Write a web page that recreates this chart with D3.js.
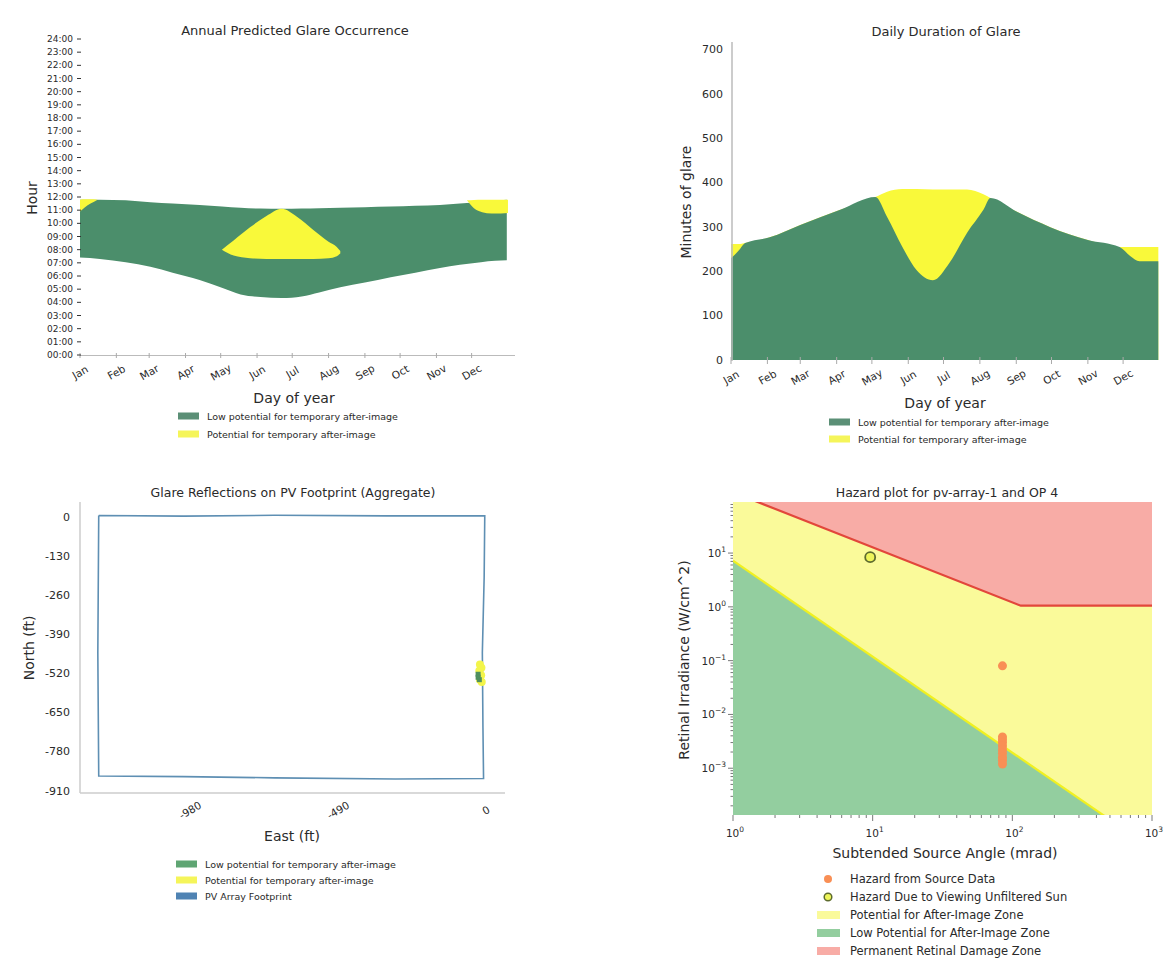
<!DOCTYPE html>
<html>
<head>
<meta charset="utf-8">
<script src="https://cdnjs.cloudflare.com/ajax/libs/d3/7.8.5/d3.min.js"></script>
<style>
  body { margin: 0; background: #fff; }
  text { font-family: "DejaVu Sans", sans-serif; fill: #2a2a2a; }
</style>
</head>
<body>
<div id="chart"></div>
<script>
// ---------- data ----------
var months = ["Jan","Feb","Mar","Apr","May","Jun","Jul","Aug","Sep","Oct","Nov","Dec"];
var monthStartDays = [1, 32, 60, 91, 121, 152, 182, 213, 244, 274, 305, 335];

// annual glare occurrence (hours of day)
var annualDays      = [1, 18, 40, 61, 80, 103, 122, 138, 155, 173, 190, 205, 223, 244, 266, 287, 308, 325, 343, 355, 365];
var annualLowTop    = [11.8, 11.8, 11.75, 11.6, 11.5, 11.4, 11.28, 11.18, 11.12, 11.1, 11.12, 11.15, 11.18, 11.22, 11.27, 11.33, 11.4, 11.5, 11.62, 11.72, 11.8];
var annualLowBottom = [7.4, 7.3, 7.05, 6.7, 6.25, 5.7, 5.1, 4.6, 4.4, 4.32, 4.45, 4.75, 5.15, 5.5, 5.9, 6.25, 6.6, 6.85, 7.05, 7.15, 7.2];

var triDays   = [122, 132, 146, 160, 173, 186, 200, 213, 220, 223];
var triTop    = [8.0, 8.7, 9.7, 10.55, 11.1, 10.5, 9.5, 8.6, 8.2, 7.9];
var triBottom = [8.0, 7.55, 7.35, 7.3, 7.3, 7.3, 7.3, 7.35, 7.5, 7.7];

var janBlobDays   = [1, 5, 10, 16];
var janBlobTop    = [11.8, 11.82, 11.82, 11.8];
var janBlobBottom = [10.9, 11.2, 11.5, 11.8];

var decBlobDays   = [331, 337, 344, 352, 360, 366];
var decBlobTop    = [11.75, 11.78, 11.8, 11.8, 11.8, 11.8];
var decBlobBottom = [11.75, 11.15, 10.85, 10.75, 10.75, 10.78];

// daily duration of glare (minutes)
var durDays  = [1, 5, 9, 13, 34, 60, 94, 124, 134, 147, 159, 173, 187, 202, 216, 222, 245, 273, 305, 332, 341, 349, 365];
var durTotal = [262, 262, 262, 264, 277, 305, 339, 368, 380, 386, 386, 385, 385, 385, 374, 366, 334, 300, 271, 255, 255, 255, 255];
var durLow   = [230, 240, 252, 264, 277, 305, 339, 368, 323, 255, 203, 180, 219, 287, 339, 366, 334, 300, 271, 255, 235, 223, 223];

// PV footprint (ft)
var footEast  = [-1282, -1000, -700, -330, -4, -6, -12, -10, -8, -300, -700, -1000, -1282, -1285, -1282];
var footNorth = [5, 3, 6, 4, 4, -200, -450, -700, -868, -870, -866, -862, -860, -450, 5];
var glareYellowPts = [[-20, -490], [-15, -500], [-22, -510], [-16, -525], [-20, -540], [-14, -548]];
var glareGreenPts  = [[-26, -522], [-26, -532], [-22, -540]];
var eastTicks  = [-980, -490, 0];
var northTicks = [0, -130, -260, -390, -520, -650, -780, -910];

// hazard plot
var damageAngle = [1, 115, 1000];
var damageIrr   = [135, 1.05, 1.05];
var afterAngle  = [1, 1000];
var afterIrr    = [7.2, 3.2e-5];
var sourceAngle = [85, 85, 85, 85, 85, 85, 85, 85, 85, 85];
var sourceIrr   = [0.08, 0.0038, 0.0034, 0.003, 0.0026, 0.0022, 0.0019, 0.0016, 0.0014, 0.0012];
var sunAngle = [9.6];
var sunIrr   = [8.4];

// ---------- colours ----------
var cGreen = "#4b8e6b", cYellow = "#f9f93a";

var svg = d3.select("#chart").append("svg")
  .attr("width", 1167).attr("height", 975);

function rotatedMonths(g, x, yPos) {
  g.selectAll("text.m").data(monthStartDays).enter().append("text")
    .attr("class", "m")
    .attr("transform", function(d) { return "translate(" + x(d) + "," + yPos + ") rotate(-30)"; })
    .attr("text-anchor", "middle").attr("dominant-baseline", "central")
    .style("font-size", "10.5px")
    .text(function(d, i) { return months[i]; });
}

function legendRows(g, x0, y0, dy, items) {
  items.forEach(function(it, i) {
    g.append("rect").attr("x", x0).attr("y", y0 + i * dy - 3.5)
      .attr("width", 21).attr("height", 7).attr("fill", it.c);
    g.append("text").attr("x", x0 + 29).attr("y", y0 + i * dy)
      .attr("dominant-baseline", "central")
      .style("font-size", "9.5px").text(it.t);
  });
}

// ================= 1. Annual Predicted Glare Occurrence =================
var g1 = svg.append("g");
var x1 = d3.scaleLinear().domain([1, 372]).range([80, 515]);
var y1 = d3.scaleLinear().domain([0, 24]).range([355, 39]);

var areaHours = function(days, top, bot) {
  return d3.area().curve(d3.curveMonotoneX)
    .x(function(d, i) { return x1(days[i]); })
    .y0(function(d, i) { return y1(bot[i]); })
    .y1(function(d, i) { return y1(top[i]); })(days);
};
g1.append("path").attr("d", areaHours(annualDays, annualLowTop, annualLowBottom)).attr("fill", cGreen);
g1.append("path").attr("d", areaHours(triDays, triTop, triBottom)).attr("fill", cYellow);
g1.append("path").attr("d", areaHours(janBlobDays, janBlobTop, janBlobBottom)).attr("fill", cYellow);
g1.append("path").attr("d", areaHours(decBlobDays, decBlobTop, decBlobBottom)).attr("fill", cYellow);

// x axis
g1.append("line").attr("x1", 80).attr("x2", 515).attr("y1", 355.5).attr("y2", 355.5)
  .attr("stroke", "#bbb").attr("stroke-width", 1.2);
g1.selectAll("line.xt").data(monthStartDays).enter().append("line")
  .attr("x1", function(d) { return x1(d); }).attr("x2", function(d) { return x1(d); })
  .attr("y1", 353).attr("y2", 358).attr("stroke", "#aaa");
rotatedMonths(g1, x1, 372);

// y axis (labels + dash ticks)
var hourTicks = d3.range(0, 25);
g1.selectAll("text.yt").data(hourTicks).enter().append("text")
  .attr("x", 73).attr("y", function(d) { return y1(d); })
  .attr("text-anchor", "end").attr("dominant-baseline", "central")
  .style("font-size", "9px")
  .text(function(d) { return (d < 10 ? "0" : "") + d + ":00"; });
g1.selectAll("line.yt").data(hourTicks).enter().append("line")
  .attr("x1", 77).attr("x2", 81)
  .attr("y1", function(d) { return y1(d); }).attr("y2", function(d) { return y1(d); })
  .attr("stroke", "#333").attr("stroke-width", 1);

g1.append("text").attr("x", 295).attr("y", 35).attr("text-anchor", "middle")
  .style("font-size", "13px").text("Annual Predicted Glare Occurrence");
g1.append("text").attr("x", 294).attr("y", 398).attr("text-anchor", "middle")
  .attr("dominant-baseline", "central").style("font-size", "14px").text("Day of year");
g1.append("text").attr("transform", "translate(32,198) rotate(-90)")
  .attr("text-anchor", "middle").attr("dominant-baseline", "central")
  .style("font-size", "14px").text("Hour");
legendRows(g1, 178, 416, 18, [
  { c: "#5b8f76", t: "Low potential for temporary after-image" },
  { c: "#f5f55a", t: "Potential for temporary after-image" }
]);

// ================= 2. Daily Duration of Glare =================
var g2 = svg.append("g");
var x2 = d3.scaleLinear().domain([1, 366]).range([731, 1159.5]);
var y2 = d3.scaleLinear().domain([0, 718]).range([360, 42]);

var areaMin = function(vals) {
  return d3.area().curve(d3.curveMonotoneX)
    .x(function(d, i) { return x2(durDays[i]); })
    .y0(y2(0))
    .y1(function(d, i) { return y2(vals[i]); })(durDays);
};
g2.append("path").attr("d", areaMin(durTotal)).attr("fill", cYellow);
g2.append("path").attr("d", areaMin(durLow)).attr("fill", cGreen);

g2.append("line").attr("x1", 732).attr("x2", 732).attr("y1", 42).attr("y2", 361)
  .attr("stroke", "#bbb").attr("stroke-width", 1.5);
g2.selectAll("line.xt").data(monthStartDays).enter().append("line")
  .attr("x1", function(d) { return x2(d); }).attr("x2", function(d) { return x2(d); })
  .attr("y1", 357).attr("y2", 364).attr("stroke", "#aaa");
rotatedMonths(g2, x2, 377);

g2.selectAll("text.yt").data(d3.range(0, 701, 100)).enter().append("text")
  .attr("x", 723).attr("y", function(d) { return y2(d); })
  .attr("text-anchor", "end").attr("dominant-baseline", "central")
  .style("font-size", "11px")
  .text(function(d) { return d; });

g2.append("text").attr("x", 946).attr("y", 36).attr("text-anchor", "middle")
  .style("font-size", "13px").text("Daily Duration of Glare");
g2.append("text").attr("x", 945).attr("y", 403).attr("text-anchor", "middle")
  .attr("dominant-baseline", "central").style("font-size", "14px").text("Day of year");
g2.append("text").attr("transform", "translate(686,202) rotate(-90)")
  .attr("text-anchor", "middle").attr("dominant-baseline", "central")
  .style("font-size", "14px").text("Minutes of glare");
legendRows(g2, 829, 422, 17, [
  { c: "#5b8f76", t: "Low potential for temporary after-image" },
  { c: "#f5f55a", t: "Potential for temporary after-image" }
]);

// ================= 3. Glare Reflections on PV Footprint =================
var g3 = svg.append("g");
var x3 = d3.scaleLinear().domain([-1344, 63]).range([80, 505]);
var y3 = d3.scaleLinear().domain([-913, 50]).range([792, 502]);

g3.append("line").attr("x1", 80).attr("x2", 80).attr("y1", 502).attr("y2", 793)
  .attr("stroke", "#ccc").attr("stroke-width", 1.5);
g3.append("line").attr("x1", 80).attr("x2", 505).attr("y1", 793).attr("y2", 793)
  .attr("stroke", "#ccc").attr("stroke-width", 1.5);

g3.append("path")
  .attr("d", d3.line()
    .x(function(d, i) { return x3(footEast[i]); })
    .y(function(d, i) { return y3(footNorth[i]); })(footEast))
  .attr("fill", "none").attr("stroke", "#5e8fb3").attr("stroke-width", 1.6);

g3.selectAll("circle.gy").data(glareYellowPts).enter().append("circle")
  .attr("cx", function(d) { return x3(d[0]); }).attr("cy", function(d) { return y3(d[1]); })
  .attr("r", 4).attr("fill", "#f3f54a");
g3.selectAll("rect.gg").data(glareGreenPts).enter().append("rect")
  .attr("x", function(d) { return x3(d[0]) - 2.5; }).attr("y", function(d) { return y3(d[1]) - 2.5; })
  .attr("width", 5).attr("height", 5).attr("fill", "#4f8f5e");

g3.selectAll("text.yt").data(northTicks).enter().append("text")
  .attr("x", 70).attr("y", function(d) { return y3(d); })
  .attr("text-anchor", "end").attr("dominant-baseline", "central")
  .style("font-size", "11px")
  .text(function(d) { return d; });
g3.selectAll("text.xt").data(eastTicks).enter().append("text")
  .attr("transform", function(d) { return "translate(" + x3(d) + ",810) rotate(-30)"; })
  .attr("text-anchor", "middle").attr("dominant-baseline", "central")
  .style("font-size", "10.5px")
  .text(function(d) { return d; });

g3.append("text").attr("x", 293).attr("y", 497).attr("text-anchor", "middle")
  .style("font-size", "12.5px").text("Glare Reflections on PV Footprint (Aggregate)");
g3.append("text").attr("x", 292).attr("y", 836).attr("text-anchor", "middle")
  .attr("dominant-baseline", "central").style("font-size", "14px").text("East (ft)");
g3.append("text").attr("transform", "translate(29,648) rotate(-90)")
  .attr("text-anchor", "middle").attr("dominant-baseline", "central")
  .style("font-size", "14px").text("North (ft)");
legendRows(g3, 176, 864, 16, [
  { c: "#5fa573", t: "Low potential for temporary after-image" },
  { c: "#f5f55a", t: "Potential for temporary after-image" },
  { c: "#4f83b3", t: "PV Array Footprint" }
]);

// ================= 4. Hazard plot =================
var g4 = svg.append("g");
var x4 = d3.scaleLog().domain([1, 1000]).range([733, 1152]);
var y4 = d3.scaleLog().domain([1.35e-4, 89]).range([815, 502]);

svg.append("clipPath").attr("id", "hz").append("rect")
  .attr("x", 733).attr("y", 502).attr("width", 1152 - 733).attr("height", 815 - 502);
var zones = g4.append("g").attr("clip-path", "url(#hz)");

zones.append("rect").attr("x", 733).attr("y", 502).attr("width", 419).attr("height", 313)
  .attr("fill", "#fafa9a");

var pinkPts = damageAngle.map(function(a, i) { return [x4(a), y4(damageIrr[i])]; });
pinkPts.push([x4(1000), 400], [x4(1), 400]);
zones.append("polygon").attr("points", pinkPts.join(" ")).attr("fill", "#f8aca6");

var greenPts = afterAngle.map(function(a, i) { return [x4(a), y4(afterIrr[i])]; });
greenPts.push([x4(1000), 900], [x4(1), 900]);
zones.append("polygon").attr("points", greenPts.join(" ")).attr("fill", "#93ce9f");

zones.append("path")
  .attr("d", d3.line()
    .x(function(d, i) { return x4(damageAngle[i]); })
    .y(function(d, i) { return y4(damageIrr[i]); })(damageAngle))
  .attr("fill", "none").attr("stroke", "#e2473b").attr("stroke-width", 2.2);
zones.append("path")
  .attr("d", d3.line()
    .x(function(d, i) { return x4(afterAngle[i]); })
    .y(function(d, i) { return y4(afterIrr[i]); })(afterAngle))
  .attr("fill", "none").attr("stroke", "#f0f020").attr("stroke-width", 2.2);

g4.selectAll("circle.src").data(sourceIrr).enter().append("circle")
  .attr("cx", function(d, i) { return x4(sourceAngle[i]); })
  .attr("cy", function(d) { return y4(d); })
  .attr("r", 4.5).attr("fill", "#f98f55");
g4.selectAll("circle.sun").data(sunIrr).enter().append("circle")
  .attr("cx", function(d, i) { return x4(sunAngle[i]); })
  .attr("cy", function(d) { return y4(d); })
  .attr("r", 5).attr("fill", "#eef55a").attr("stroke", "#5d6b2e").attr("stroke-width", 1.8);

// log ticks
var yMinor = [];
for (var e = -4; e <= 1; e++) for (var m = 1; m <= 9; m++) {
  var v = m * Math.pow(10, e);
  if (v >= 1.35e-4 && v <= 89) yMinor.push(v);
}
g4.selectAll("line.ym").data(yMinor).enter().append("line")
  .attr("x1", function(d) { return Math.abs(Math.log10(d) % 1) < 1e-9 ? 728 : 730.5; })
  .attr("x2", 733)
  .attr("y1", function(d) { return y4(d); }).attr("y2", function(d) { return y4(d); })
  .attr("stroke", "#555").attr("stroke-width", 0.8);
var xMinor = [];
for (var ex = 0; ex <= 2; ex++) for (var mx = 1; mx <= 9; mx++) xMinor.push(mx * Math.pow(10, ex));
xMinor.push(1000);
g4.selectAll("line.xm").data(xMinor).enter().append("line")
  .attr("x1", function(d) { return x4(d); }).attr("x2", function(d) { return x4(d); })
  .attr("y1", 815)
  .attr("y2", function(d) { return Math.abs(Math.log10(d) % 1) < 1e-9 ? 821 : 818; })
  .attr("stroke", "#555").attr("stroke-width", 0.8);

var yMajor = [10, 1, 0.1, 0.01, 0.001];
var yl = g4.selectAll("text.yt").data(yMajor).enter().append("text")
  .attr("x", 726).attr("y", function(d) { return y4(d) + 4; })
  .attr("text-anchor", "end").style("font-size", "10.5px");
yl.append("tspan").text("10");
yl.append("tspan").attr("dy", -5).style("font-size", "7.5px")
  .text(function(d) { var p = Math.round(Math.log10(d)); return p < 0 ? "\u2212" + (-p) : p; });

var xMajor = [1, 10, 100, 1000];
var xl = g4.selectAll("text.xt").data(xMajor).enter().append("text")
  .attr("x", function(d) { return x4(d) + 2; }).attr("y", 837)
  .attr("text-anchor", "middle").style("font-size", "10.5px");
xl.append("tspan").text("10");
xl.append("tspan").attr("dy", -5).style("font-size", "7.5px")
  .text(function(d) { return Math.round(Math.log10(d)); });

g4.append("text").attr("x", 947).attr("y", 497).attr("text-anchor", "middle")
  .style("font-size", "12.5px").text("Hazard plot for pv-array-1 and OP 4");
g4.append("text").attr("x", 945).attr("y", 853).attr("text-anchor", "middle")
  .attr("dominant-baseline", "central").style("font-size", "14px").text("Subtended Source Angle (mrad)");
g4.append("text").attr("transform", "translate(684,660) rotate(-90)")
  .attr("text-anchor", "middle").attr("dominant-baseline", "central")
  .style("font-size", "14px").text("Retinal Irradiance (W/cm^2)");

// legend
var lx = 817, ly = 879, ldy = 18;
g4.append("circle").attr("cx", 828).attr("cy", ly).attr("r", 4).attr("fill", "#f98f55");
g4.append("circle").attr("cx", 828).attr("cy", ly + ldy).attr("r", 3.8)
  .attr("fill", "#eef55a").attr("stroke", "#5d6b2e").attr("stroke-width", 1.5);
var patchCols = ["#fafa9a", "#93ce9f", "#f8aca6"];
patchCols.forEach(function(c, i) {
  g4.append("rect").attr("x", lx).attr("y", ly + (i + 2) * ldy - 4)
    .attr("width", 23).attr("height", 8).attr("fill", c);
});
var legTexts = ["Hazard from Source Data", "Hazard Due to Viewing Unfiltered Sun",
  "Potential for After-Image Zone", "Low Potential for After-Image Zone", "Permanent Retinal Damage Zone"];
g4.selectAll("text.lg").data(legTexts).enter().append("text")
  .attr("x", 850).attr("y", function(d, i) { return ly + i * ldy; })
  .attr("dominant-baseline", "central").style("font-size", "11.5px")
  .text(function(d) { return d; });
</script>
</body>
</html>
